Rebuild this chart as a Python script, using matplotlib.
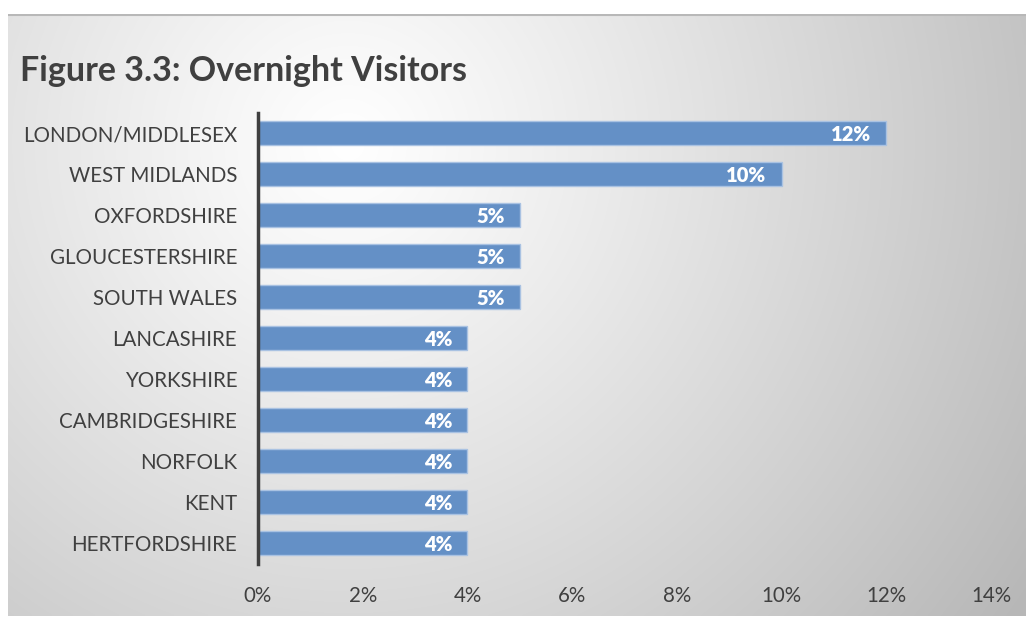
import numpy as np
import matplotlib.pyplot as plt
from matplotlib.ticker import FuncFormatter

regions = ['LONDON/MIDDLESEX', 'WEST MIDLANDS', 'OXFORDSHIRE', 'GLOUCESTERSHIRE',
           'SOUTH WALES', 'LANCASHIRE', 'YORKSHIRE', 'CAMBRIDGESHIRE', 'NORFOLK',
           'KENT', 'HERTFORDSHIRE']
share = [0.12, 0.10, 0.05, 0.05, 0.05, 0.04, 0.04, 0.04, 0.04, 0.04, 0.04]
x_ticks = [0, 0.02, 0.04, 0.06, 0.08, 0.10, 0.12, 0.14]

plt.rcParams['font.family'] = ['Lato', 'DejaVu Sans']
W, H = 1027, 617
fig = plt.figure(figsize=(W / 100, H / 100), dpi=100, facecolor='white')

# shaded panel behind the chart
bg = fig.add_axes([8 / W, 1 / H, 1018 / W, 602 / H])
bg.set_axis_off()
yy, xx = np.mgrid[0:602, 0:1018]
dist = np.hypot(xx - 340, yy - 130)
shade = 255 - 72 * np.clip(dist / 820, 0, 1) ** 1.1
img = np.dstack([shade, shade, shade]).astype(np.uint8)
bg.imshow(img, aspect='auto', interpolation='bilinear')
bg.plot([0, 1017], [0, 0], color='#b8b8b8', lw=1.5)

fig.text(20 / W, 1 - 71 / H, 'Figure 3.3: Overnight Visitors', fontsize=24.5,
         fontweight='bold', color='#404040', va='center', ha='left')

ax = fig.add_axes([258 / W, 1 - 563.5 / H, 733 / W, 451 / H])
ax.patch.set_alpha(0)
y = np.arange(len(regions))
bars = ax.barh(y, share, height=0.59, color='#6490c6', edgecolor='#a9c2e2', linewidth=1)
for b, v in zip(bars, share):
    ax.annotate(f'{v:.0%}', (v, b.get_y() + b.get_height() / 2), xytext=(-11, -1),
                textcoords='offset points', ha='right', va='center',
                color='white', fontweight='heavy', fontsize=14.5)

ax.set_xlim(0, 0.14)
ax.set_ylim(len(regions) - 0.5, -0.5)
ax.set_yticks(y)
ax.set_yticklabels(regions)
ax.set_xticks(x_ticks)
ax.xaxis.set_major_formatter(FuncFormatter(lambda v, p: f'{v * 100:.0f}%'))
ax.tick_params(axis='both', length=0, labelsize=14.8, labelcolor='#404040')
ax.tick_params(axis='x', pad=16)
ax.tick_params(axis='y', pad=15)
for s in ['top', 'right', 'bottom']:
    ax.spines[s].set_visible(False)
ax.spines['left'].set_color('#404040')
ax.spines['left'].set_linewidth(2.5)

fig.savefig('out.png', dpi=100, facecolor='white')
